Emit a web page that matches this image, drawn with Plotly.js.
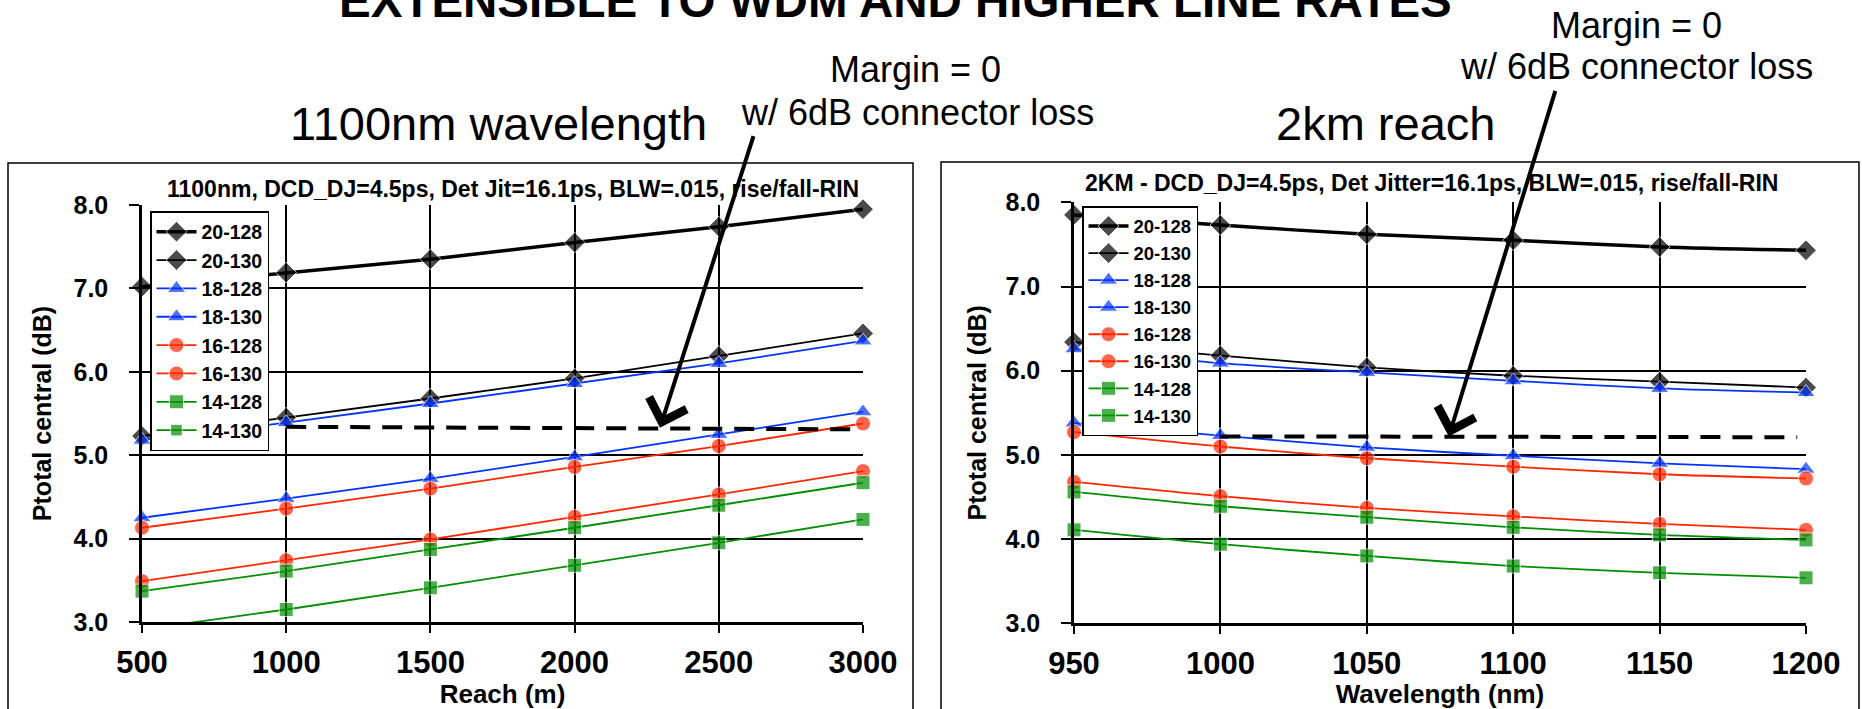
<!DOCTYPE html>
<html>
<head>
<meta charset="utf-8">
<script src="https://cdn.plot.ly/plotly-3.0.1.min.js"></script>
<style>html,body{margin:0;padding:0;background:#fff;}#chart{width:1862px;height:709px;}</style>
</head>
<body>
<div id="chart"></div>
<script>
// ---------------- DATA ----------------
const seriesNames = ["20-128", "20-130", "18-128", "18-130", "16-128", "16-130", "14-128", "14-130"];

// Left chart: 1100nm wavelength, x = reach (m)
const reachM = [500, 1000, 1500, 2000, 2500, 3000];
const reach_20_128 = [7.02, 7.19, 7.35, 7.55, 7.74, 7.95];
const reach_20_130 = [5.23, 5.45, 5.68, 5.92, 6.19, 6.46];
const reach_18_128 = [5.18, 5.39, 5.62, 5.86, 6.10, 6.37];
const reach_18_130 = [4.25, 4.48, 4.72, 4.98, 5.25, 5.52];
const reach_16_128 = [4.13, 4.36, 4.60, 4.86, 5.11, 5.38];
const reach_16_130 = [3.49, 3.74, 3.99, 4.26, 4.53, 4.81];
const reach_14_128 = [3.37, 3.61, 3.87, 4.13, 4.40, 4.67];
const reach_14_130 = [2.91, 3.15, 3.41, 3.68, 3.95, 4.23];
const reachMarginX = [1000, 2975];
const reachMarginY = [5.34, 5.31];

// Right chart: 2km reach, x = wavelength (nm)
const wavelengthNm = [950, 1000, 1050, 1100, 1150, 1200];
const wl_20_128 = [7.85, 7.73, 7.62, 7.55, 7.47, 7.43];
const wl_20_130 = [6.34, 6.18, 6.04, 5.94, 5.87, 5.80];
const wl_18_128 = [6.26, 6.09, 5.98, 5.88, 5.79, 5.74];
const wl_18_130 = [5.38, 5.23, 5.09, 4.99, 4.90, 4.83];
const wl_16_128 = [5.27, 5.10, 4.96, 4.86, 4.77, 4.72];
const wl_16_130 = [4.68, 4.51, 4.37, 4.27, 4.18, 4.11];
const wl_14_128 = [4.56, 4.39, 4.26, 4.14, 4.05, 3.99];
const wl_14_130 = [4.11, 3.94, 3.80, 3.68, 3.60, 3.54];
const wlMarginX = [1000, 1197];
const wlMarginY = [5.22, 5.21];

const reachTicks = [500, 1000, 1500, 2000, 2500, 3000];
const wlTicks = [950, 1000, 1050, 1100, 1150, 1200];
const yTicks = [3, 4, 5, 6, 7, 8];

// ---------------- STYLE ----------------
const W = 1862, H = 709;
const px = v => v / W;
const py = v => 1 - v / H;
const FONT = "Liberation Sans, Arial, Helvetica, sans-serif";
const BLUE = "#0433ff", RED = "#ff2600", GREEN = "#008f00", BLACK = "#000000";
const Y_MIN = 3, Y_MAX = 8;

const styles = [
  {color: BLACK, width: 3.5, symbol: "diamond", size: 16},
  {color: BLACK, width: 1.8, symbol: "diamond", size: 16},
  {color: BLUE, width: 1.8, symbol: "triangle-up", size: 16},
  {color: BLUE, width: 1.8, symbol: "triangle-up", size: 16},
  {color: RED, width: 1.8, symbol: "circle", size: 15},
  {color: RED, width: 1.8, symbol: "circle", size: 15},
  {color: GREEN, width: 1.8, symbol: "square", size: 14},
  {color: GREEN, width: 1.8, symbol: "square", size: 14}
];

const reachSeries = [reach_20_128, reach_20_130, reach_18_128, reach_18_130, reach_16_128, reach_16_130, reach_14_128, reach_14_130];
const wlSeries = [wl_20_128, wl_20_130, wl_18_128, wl_18_130, wl_16_128, wl_16_130, wl_14_128, wl_14_130];

const traces = [];
function addSeries(xs, seriesList, xa, ya, legendId, shape) {
  seriesList.forEach((ys, i) => {
    const s = styles[i];
    traces.push({
      type: "scatter", mode: "lines+markers",
      x: xs, y: ys, xaxis: xa, yaxis: ya,
      name: seriesNames[i], legend: legendId,
      line: {color: s.color, width: s.width, shape: shape, smoothing: 0.8},
      marker: {symbol: s.symbol, color: s.color,
               size: ys.map(v => (v < Y_MIN || v > Y_MAX) ? 0 : s.size)},
      cliponaxis: false, hoverinfo: "x+y+name"
    });
  });
}
addSeries(reachM, reachSeries, "x", "y", "legend", "linear");
addSeries(wavelengthNm, wlSeries, "x2", "y2", "legend2", "spline");

traces.push({type: "scatter", mode: "lines", x: reachMarginX, y: reachMarginY, xaxis: "x", yaxis: "y",
  showlegend: false, line: {color: BLACK, width: 4, dash: "20px,12px"}, hoverinfo: "skip"});
traces.push({type: "scatter", mode: "lines", x: wlMarginX, y: wlMarginY, xaxis: "x2", yaxis: "y2",
  showlegend: false, line: {color: BLACK, width: 4, dash: "20px,12px"}, hoverinfo: "skip"});

const axisCommon = {
  showgrid: true, gridcolor: BLACK, gridwidth: 1.5,
  showline: true, linecolor: BLACK, linewidth: 2.5,
  ticks: "outside", tickcolor: BLACK, tickwidth: 2,
  zeroline: false, fixedrange: true
};
const xAxisCommon = Object.assign({}, axisCommon, {
  ticklen: 8, ticklabelstandoff: 3,
  tickfont: {family: FONT, size: 31, weight: "bold", color: BLACK}
});
const yAxisCommon = Object.assign({}, axisCommon, {
  ticklen: 10, ticklabelstandoff: 16, range: [Y_MIN, Y_MAX], tickvals: yTicks, tickformat: ".1f",
  tickfont: {family: FONT, size: 25, weight: "bold", color: BLACK}
});

const layout = {
  width: W, height: H,
  margin: {l: 0, r: 0, t: 0, b: 0},
  paper_bgcolor: "#ffffff", plot_bgcolor: "#ffffff",
  font: {family: FONT, color: BLACK},
  showlegend: true,
  xaxis: Object.assign({}, xAxisCommon, {
    domain: [px(142), px(863)], range: [500, 3000], tickvals: reachTicks, anchor: "y",
    title: {text: "Reach (m)", font: {family: FONT, size: 26, weight: "bold"}, standoff: 1}
  }),
  yaxis: Object.assign({}, yAxisCommon, {
    domain: [py(622), py(205)], anchor: "x",
    title: {text: "Ptotal central (dB)", font: {family: FONT, size: 25, weight: "bold"}, standoff: 15}
  }),
  xaxis2: Object.assign({}, xAxisCommon, {
    domain: [px(1074), px(1806)], range: [950, 1200], tickvals: wlTicks, anchor: "y2",
    title: {text: "Wavelength (nm)", font: {family: FONT, size: 26, weight: "bold"}, standoff: 1}
  }),
  yaxis2: Object.assign({}, yAxisCommon, {
    domain: [py(623.3), py(202.3)], anchor: "x2",
    title: {text: "Ptotal central (dB)", font: {family: FONT, size: 25, weight: "bold"}, standoff: 12}
  }),
  legend: {
    x: px(150), y: py(211), xanchor: "left", yanchor: "top",
    bgcolor: "#ffffff", bordercolor: BLACK, borderwidth: 1.5,
    font: {family: FONT, size: 19.5, weight: "bold", color: BLACK},
    itemwidth: 40, tracegroupgap: 0, traceorder: "normal"
  },
  legend2: {
    x: px(1082), y: py(206), xanchor: "left", yanchor: "top",
    bgcolor: "#ffffff", bordercolor: BLACK, borderwidth: 1.5,
    font: {family: FONT, size: 18.5, weight: "bold", color: BLACK},
    itemwidth: 40, tracegroupgap: 0, traceorder: "normal"
  },
  shapes: [
    {type: "rect", xref: "paper", yref: "paper", x0: px(8), x1: px(913), y0: -0.05, y1: py(163),
     line: {color: BLACK, width: 1.5}, fillcolor: "rgba(0,0,0,0)", layer: "below"},
    {type: "rect", xref: "paper", yref: "paper", x0: px(941), x1: px(1859), y0: -0.05, y1: py(162),
     line: {color: BLACK, width: 1.5}, fillcolor: "rgba(0,0,0,0)", layer: "below"}
  ],
  annotations: [
    {text: "EXTENSIBLE TO WDM AND HIGHER LINE RATES", xref: "paper", yref: "paper",
     x: px(895), y: py(0), xanchor: "center", yanchor: "middle", showarrow: false,
     font: {family: FONT, size: 47.5, weight: "bold", color: BLACK}},
    {text: "1100nm wavelength", xref: "paper", yref: "paper", x: px(499), y: py(124),
     xanchor: "center", yanchor: "middle", showarrow: false, font: {family: FONT, size: 47, color: BLACK}},
    {text: "2km reach", xref: "paper", yref: "paper", x: px(1385), y: py(124),
     xanchor: "center", yanchor: "middle", showarrow: false, font: {family: FONT, size: 47, color: BLACK}},
    {text: "Margin = 0", xref: "paper", yref: "paper", x: px(915), y: py(70),
     xanchor: "center", yanchor: "middle", showarrow: false, font: {family: FONT, size: 36, color: BLACK}},
    {text: "w/ 6dB connector loss", xref: "paper", yref: "paper", x: px(917), y: py(113),
     xanchor: "center", yanchor: "middle", showarrow: false, font: {family: FONT, size: 36, color: BLACK}},
    {text: "Margin = 0", xref: "paper", yref: "paper", x: px(1636), y: py(26),
     xanchor: "center", yanchor: "middle", showarrow: false, font: {family: FONT, size: 36, color: BLACK}},
    {text: "w/ 6dB connector loss", xref: "paper", yref: "paper", x: px(1636), y: py(67),
     xanchor: "center", yanchor: "middle", showarrow: false, font: {family: FONT, size: 36, color: BLACK}},
    {text: "1100nm, DCD_DJ=4.5ps, Det Jit=16.1ps, BLW=.015, rise/fall-RIN", xref: "paper", yref: "paper",
     x: px(513), y: py(189), xanchor: "center", yanchor: "middle", showarrow: false,
     font: {family: FONT, size: 23, weight: "bold", color: BLACK}},
    {text: "2KM - DCD_DJ=4.5ps, Det Jitter=16.1ps, BLW=.015, rise/fall-RIN", xref: "paper", yref: "paper",
     x: px(1431), y: py(183), xanchor: "center", yanchor: "middle", showarrow: false,
     font: {family: FONT, size: 23, weight: "bold", color: BLACK}},
    // arrows pointing at the margin lines
    {text: "", xref: "x", yref: "y", x: 2296, y: 5.33, ax: 94, ay: -293,
     showarrow: true, arrowhead: 4, arrowsize: 1.9, arrowwidth: 4, arrowcolor: BLACK, standoff: 0},
    {text: "", xref: "x2", yref: "y2", x: 1078, y: 5.22, ax: 107, ay: -347,
     showarrow: true, arrowhead: 4, arrowsize: 1.9, arrowwidth: 4, arrowcolor: BLACK, standoff: 0}
  ]
};

Plotly.newPlot("chart", traces, layout, {displayModeBar: false, staticPlot: false});
</script>
</body>
</html>
